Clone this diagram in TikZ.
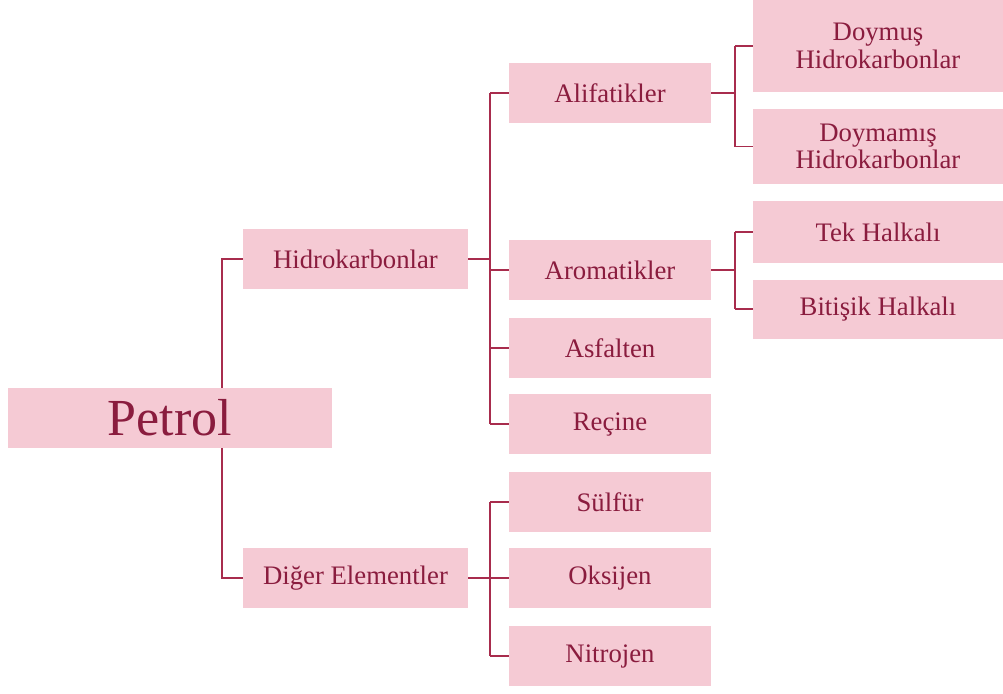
\documentclass[tikz,border=0pt]{standalone}
\usepackage{fontspec}
\setmainfont{Liberation Serif}
\usetikzlibrary{calc}
\definecolor{boxpink}{HTML}{F5CAD4}
\definecolor{txtred}{HTML}{8A1C3E}
\definecolor{wirered}{HTML}{A82C4D}

\begin{document}
\begin{tikzpicture}[
    x=0.025cm, y=-0.025cm,
    box/.style={fill=boxpink, text=txtred, inner sep=0pt, align=center,
        font=\fontsize{19}{19.5}\selectfont},
    wire/.style={wirered, line width=1.3pt}
]

% 1. Canvas
\useasboundingbox (0,0) rectangle (1003,693);

% 2. Bus positions
\coordinate (busA) at (222,0);
\coordinate (busB) at (490,0);
\coordinate (busC) at (735,0);

% 3. Root and first level
\node[box, minimum width=8.1cm, minimum height=1.5cm,
    font=\fontsize{37}{40}\selectfont] (petrol) at (170,418) {Petrol};
\node[box, minimum width=5.625cm, minimum height=1.5cm] (hidro) at (355.5,259) {Hidrokarbonlar};
\node[box, minimum width=5.625cm, minimum height=1.5cm] (diger) at (355.5,578) {Diğer Elementler};

% 4. Second level
\node[box, minimum width=5.05cm, minimum height=1.5cm] (alif) at (610,93) {Alifatikler};
\node[box, minimum width=5.05cm, minimum height=1.5cm] (arom) at (610,270) {Aromatikler};
\node[box, minimum width=5.05cm, minimum height=1.5cm] (asfal) at (610,348) {Asfalten};
\node[box, minimum width=5.05cm, minimum height=1.5cm] (recine) at (610,424) {Reçine};
\node[box, minimum width=5.05cm, minimum height=1.5cm] (sulfur) at (610,502) {Sülfür};
\node[box, minimum width=5.05cm, minimum height=1.5cm] (oksi) at (610,578) {Oksijen};
\node[box, minimum width=5.05cm, minimum height=1.5cm] (nitro) at (610,656) {Nitrojen};

% 5. Third level
\node[box, minimum width=6.25cm, minimum height=2.3cm] (doymus) at (878,46) {Doymuş\\Hidrokarbonlar};
\node[box, minimum width=6.25cm, minimum height=1.875cm] (doymamis) at (878,146.5) {Doymamış\\Hidrokarbonlar};
\node[box, minimum width=6.25cm, minimum height=1.55cm] (tek) at (878,232) {Tek Halkalı};
\node[box, minimum width=6.25cm, minimum height=1.475cm] (bitisik) at (878,309) {Bitişik Halkalı};

% 6. Connectors
\draw[wire] (petrol.north -| busA) |- (hidro.west);
\draw[wire] (petrol.south -| busA) |- (diger.west);

\draw[wire] (hidro.east) -- (hidro.east -| busB);
\draw[wire] (alif.west -| busB) -- (recine.west -| busB);
\foreach \c in {alif, arom, asfal, recine}
    \draw[wire] (\c.west -| busB) -- (\c.west);

\draw[wire] (diger.east) -- (diger.east -| busB);
\draw[wire] (sulfur.west -| busB) -- (nitro.west -| busB);
\foreach \c in {sulfur, oksi, nitro}
    \draw[wire] (\c.west -| busB) -- (\c.west);

\draw[wire] (alif.east) -- (alif.east -| busC);
\draw[wire] (doymus.west -| busC) -- (doymamis.west -| busC);
\foreach \c in {doymus, doymamis}
    \draw[wire] (\c.west -| busC) -- (\c.west);

\draw[wire] (arom.east) -- (arom.east -| busC);
\draw[wire] (tek.west -| busC) -- (bitisik.west -| busC);
\foreach \c in {tek, bitisik}
    \draw[wire] (\c.west -| busC) -- (\c.west);

\end{tikzpicture}
\end{document}
